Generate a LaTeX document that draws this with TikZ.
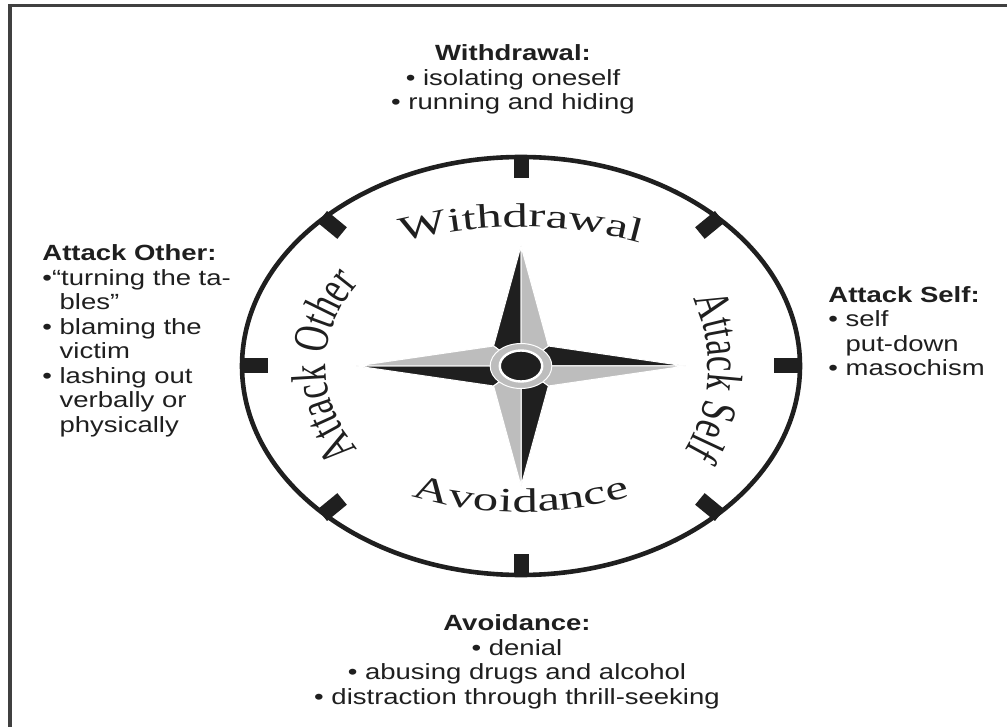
\documentclass[tikz,border=0pt]{standalone}
\usepackage{fontspec}
\setmainfont{Liberation Sans}[FakeStretch=1.25]
\newfontfamily\wheelfont{Liberation Serif}[FakeStretch=1.5]
\newfontfamily\sidefont{Liberation Serif}[FakeStretch=0.7]
\usetikzlibrary{decorations.text}

\definecolor{inkdark}{gray}{0.12}
\definecolor{rosegray}{gray}{0.74}
\newcommand{\ind}{\hphantom{•\ }}
\newcommand{\topfont}{\wheelfont\fontsize{17}{20}\selectfont}
\newcommand{\vertfont}{\sidefont\fontsize{25}{28}\selectfont}

\begin{document}
\begin{tikzpicture}[x=0.5pt,y=0.5pt,
  block/.style={inner sep=0pt, font=\fontsize{11}{12.25}\selectfont, text=inkdark},
  tickmark/.style={line width=7.5pt, inkdark},
  arm/.style={draw=white, line width=0.5pt}]
\useasboundingbox (0,0) rectangle (1007,-727);
% frame, cut off at right and bottom
\draw[line width=1.8pt, inkdark!85, line join=miter] (10,-727) -- (10,-5.5) -- (1007,-5.5);

% text blocks round the compass (base = last line)
\node[block, align=center, anchor=base] (withdrawal) at (513,-110)
  {\textbf{Withdrawal:}\\• isolating oneself\\• running and hiding};
\node[block, align=left, anchor=base west] (attackother) at (42,-432)
  {\textbf{Attack Other:}\\•“turning the ta-\\\ind bles”\\• blaming the\\\ind victim\\%
   • lashing out\\\ind verbally or\\\ind physically};
\node[block, align=left, anchor=base west] (attackself) at (828,-376)
  {\textbf{Attack Self:}\\• self\\\ind put-down\\• masochism};
\node[block, align=center, anchor=base] (avoidance) at (517,-704)
  {\textbf{Avoidance:}\\• denial\\• abusing drugs and alcohol\\• distraction through thrill-seeking};

\begin{scope}[shift={(521,-366)}]
  \draw[line width=2.3pt, inkdark] (0,0) ellipse [x radius=279, y radius=209];
  \foreach \t in {0,45,...,315}
    \draw[tickmark] (\t:281 and 211) -- (\t:253 and 188);
  % curved labels
  \path[decorate, decoration={text along path, text={|\topfont|Withdrawal},
      text align=center, text color=inkdark}]
    (150:258 and 139) arc[start angle=150, end angle=30, x radius=258, y radius=139];
  \path[decorate, decoration={text along path, text={|\topfont|Avoidance},
      text align=center, text color=inkdark}]
    (210:240 and 146) arc[start angle=210, end angle=330, x radius=240, y radius=146];
  \path[decorate, decoration={text along path, text={|\vertfont|Attack Other},
      text align=center, text color=inkdark}]
    (240:195 and 150) arc[start angle=240, end angle=120, x radius=195, y radius=150];
  \path[decorate, decoration={text along path, text={|\vertfont|Attack Self},
      text align=center, text color=inkdark}]
    (57:187 and 175) arc[start angle=57, end angle=-63, x radius=187, y radius=175];
  % the rose
  \begin{scope}[xscale=1.37]
    \foreach \a in {0,90,180,270} {
      \filldraw[arm, fill=inkdark, rotate=\a] (0,0) -- (120,0) -- (20,20) -- cycle;
      \filldraw[arm, fill=rosegray, rotate=\a] (0,0) -- (120,0) -- (20,-20) -- cycle;
    }
    \filldraw[fill=rosegray, draw=white, line width=0.5pt] (0,0) circle (22.5);
    \filldraw[fill=inkdark, draw=white, line width=1.2pt] (0,0) circle (15.5);
  \end{scope}
\end{scope}
\end{tikzpicture}
\end{document}
